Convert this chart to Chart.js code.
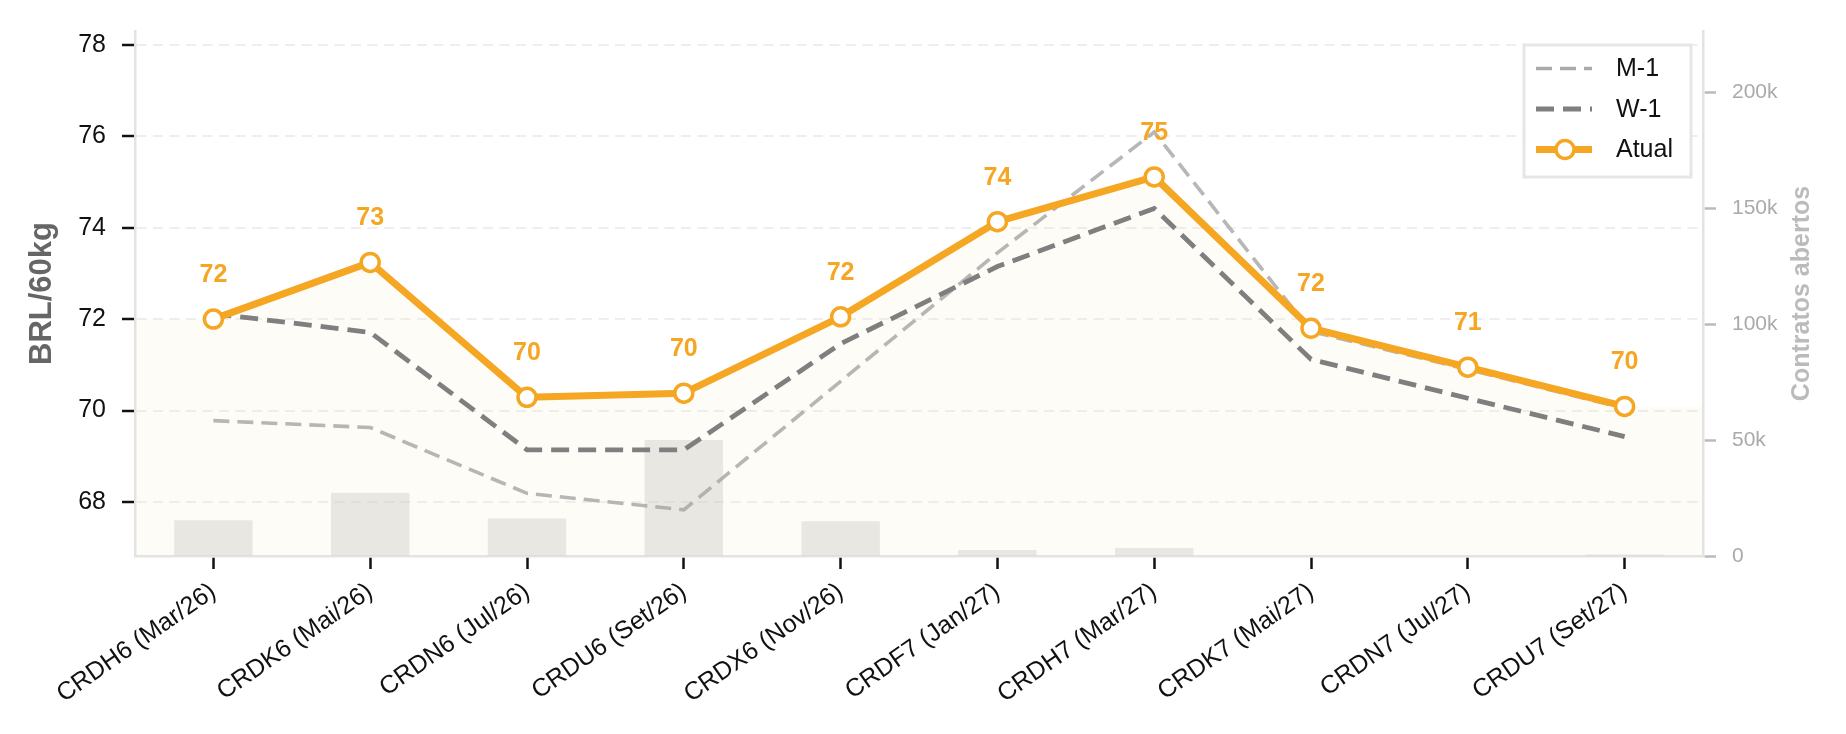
<!DOCTYPE html>
<html>
<head>
<meta charset="utf-8">
<script src="https://cdn.jsdelivr.net/npm/chart.js@4.4.1/dist/chart.umd.min.js"></script>
<style>
    html, body { margin: 0; padding: 0; background: #ffffff; }
    #wrap { width: 1846px; height: 734px; }
</style>
</head>
<body>
<div id="wrap"><canvas id="curveChart" width="1846" height="734"></canvas></div>
<script>
// contratos e valores
const contracts = ["CRDH6 (Mar/26)", "CRDK6 (Mai/26)", "CRDN6 (Jul/26)", "CRDU6 (Set/26)", "CRDX6 (Nov/26)",
    "CRDF7 (Jan/27)", "CRDH7 (Mar/27)", "CRDK7 (Mai/27)", "CRDN7 (Jul/27)", "CRDU7 (Set/27)"];
const atual = [72.00, 73.24, 70.29, 70.38, 72.05, 74.13, 75.11, 71.80, 70.95, 70.09];
const weekAgo = [72.12, 71.71, 69.14, 69.14, 71.46, 73.15, 74.42, 71.12, 70.27, 69.43];
const monthAgo = [69.78, 69.63, 68.19, 67.83, 70.64, 73.45, 76.09, 71.73, 70.90, 70.05];
const openInterest = [15400, 27300, 16200, 50100, 15000, 2600, 3400, 0, 0, 600];

const priceTicks = [68, 70, 72, 74, 76, 78];
const oiTicks = [0, 50000, 100000, 150000, 200000];
const oiTickLabels = ["0", "50k", "100k", "150k", "200k"];
const priceRange = [66.82, 78.30];
const oiRange = [0, 226600];

const orange = "#f5a623";
const fontFamily = "'Liberation Sans', Arial, sans-serif";

// area clara sob a curva atual, estendida ate as bordas do grafico
const areaFill = {
    id: "areaFill",
    beforeDatasetsDraw(chart) {
        const meta = chart.getDatasetMeta(3);
        const area = chart.chartArea;
        const pts = meta.data;
        const ctx = chart.ctx;
        ctx.save();
        ctx.beginPath();
        ctx.moveTo(area.left, area.bottom);
        ctx.lineTo(area.left, pts[0].y);
        pts.forEach(p => ctx.lineTo(p.x, p.y));
        ctx.lineTo(area.right, pts[pts.length - 1].y);
        ctx.lineTo(area.right, area.bottom);
        ctx.closePath();
        ctx.fillStyle = "rgba(240,230,190,0.12)";
        ctx.fill();
        ctx.restore();
    }
};

const pointLabels = {
    id: "pointLabels",
    afterDatasetsDraw(chart) {
        const meta = chart.getDatasetMeta(3);
        const ctx = chart.ctx;
        ctx.save();
        ctx.font = "bold 25px " + fontFamily;
        ctx.fillStyle = orange;
        ctx.textAlign = "center";
        ctx.textBaseline = "middle";
        meta.data.forEach((p, i) => {
            ctx.fillText(String(Math.round(atual[i])), p.x, p.y - 44);
        });
        ctx.restore();
    }
};

const axisTitles = {
    id: "axisTitles",
    afterDraw(chart) {
        const ctx = chart.ctx;
        const area = chart.chartArea;
        const midY = (area.top + area.bottom) / 2;
        ctx.save();
        ctx.textAlign = "center";
        ctx.textBaseline = "middle";

        ctx.save();
        ctx.translate(area.left - 93, midY);
        ctx.rotate(-Math.PI / 2);
        ctx.font = "bold 31px " + fontFamily;
        ctx.fillStyle = "#666666";
        ctx.fillText("BRL/60kg", 0, 0);
        ctx.restore();

        ctx.save();
        ctx.translate(area.right + 99, midY);
        ctx.rotate(-Math.PI / 2);
        ctx.font = "bold 25px " + fontFamily;
        ctx.fillStyle = "#bbbbbb";
        ctx.fillText("Contratos abertos", 0, 0);
        ctx.restore();

        ctx.restore();
    }
};

const legendBox = {
    id: "legendBox",
    afterDraw(chart) {
        const ctx = chart.ctx;
        const area = chart.chartArea;
        const right = area.right - 12;
        const top = area.top + 14;
        const w = 167, h = 132;
        const left = right - w;
        ctx.save();
        ctx.fillStyle = "rgba(255,255,255,0.9)";
        ctx.fillRect(left, top, w, h);
        ctx.lineWidth = 3;
        ctx.strokeStyle = "#e6e6e6";
        ctx.strokeRect(left, top, w, h);

        const items = chart.data.datasets.filter(ds => ds.type === "line");
        items.forEach((ds, i) => {
            const cy = top + 23.5 + i * 40.5;
            ctx.save();
            ctx.lineWidth = ds.borderWidth;
            ctx.strokeStyle = ds.legendColor || ds.borderColor;
            ctx.setLineDash(ds.borderDash || []);
            ctx.lineCap = "butt";
            ctx.beginPath();
            ctx.moveTo(left + 12, cy);
            ctx.lineTo(left + 68, cy);
            ctx.stroke();
            ctx.restore();
            if (ds.pointRadius > 0) {
                ctx.beginPath();
                ctx.arc(left + 41, cy, ds.pointRadius, 0, Math.PI * 2);
                ctx.fillStyle = ds.pointBackgroundColor;
                ctx.fill();
                ctx.lineWidth = ds.pointBorderWidth;
                ctx.strokeStyle = ds.pointBorderColor;
                ctx.stroke();
            }
            ctx.font = "25px " + fontFamily;
            ctx.fillStyle = "#111111";
            ctx.textAlign = "left";
            ctx.textBaseline = "middle";
            ctx.fillText(ds.label, left + 92, cy + 1);
        });
        ctx.restore();
    }
};

const ctx = document.getElementById("curveChart").getContext("2d");
const chart = new Chart(ctx, {
    type: "bar",
    data: {
        labels: contracts,
        datasets: [
            {
                type: "bar",
                label: "Contratos abertos",
                data: openInterest,
                yAxisID: "y2",
                backgroundColor: "rgba(200,200,195,0.4)",
                borderWidth: 0,
                categoryPercentage: 1,
                barPercentage: 0.5,
                order: 10
            },
            {
                type: "line",
                label: "M-1",
                data: monthAgo,
                yAxisID: "y",
                borderColor: "rgba(165,165,165,0.8)",
                legendColor: "#aaaaaa",
                borderWidth: 3.6,
                borderDash: [16, 8],
                pointRadius: 0,
                tension: 0,
                order: 3
            },
            {
                type: "line",
                label: "W-1",
                data: weekAgo,
                yAxisID: "y",
                borderColor: "#7f7f7f",
                borderWidth: 4.8,
                borderDash: [18, 9],
                pointRadius: 0,
                tension: 0,
                order: 2
            },
            {
                type: "line",
                label: "Atual",
                data: atual,
                yAxisID: "y",
                borderColor: orange,
                borderWidth: 7,
                borderJoinStyle: "round",
                pointRadius: 9,
                pointBorderWidth: 3.5,
                pointBackgroundColor: "#ffffff",
                pointBorderColor: orange,
                tension: 0,
                order: 1
            }
        ]
    },
    options: {
        responsive: false,
        devicePixelRatio: 1,
        animation: false,
        layout: { padding: { top: 26, left: 0, right: 0, bottom: 0 } },
        plugins: {
            legend: { display: false },
            tooltip: { enabled: false }
        },
        scales: {
            x: {
                offset: true,
                afterFit: scale => { scale.height = 178; },
                grid: {
                    offset: false,
                    drawOnChartArea: false,
                    tickLength: 13,
                    tickColor: "#111111",
                    tickWidth: 2.5
                },
                border: { color: "#e3e3e3", width: 2.5 },
                ticks: {
                    autoSkip: false,
                    minRotation: 35,
                    maxRotation: 35,
                    padding: 8,
                    color: "#111111",
                    font: { family: fontFamily, size: 25 }
                }
            },
            y: {
                position: "left",
                min: priceRange[0],
                max: priceRange[1],
                afterFit: scale => { scale.width = 135; },
                afterBuildTicks: scale => { scale.ticks = priceTicks.map(v => ({ value: v })); },
                grid: {
                    color: "#eeeeee",
                    lineWidth: 2,
                    tickLength: 13,
                    tickColor: "#111111",
                    tickWidth: 2.5,
                    tickBorderDash: []
                },
                border: { color: "#e3e3e3", width: 2.5, dash: [10, 6.5] },
                ticks: {
                    padding: 16,
                    color: "#111111",
                    font: { family: fontFamily, size: 25 }
                }
            },
            y2: {
                position: "right",
                min: oiRange[0],
                max: oiRange[1],
                afterFit: scale => { scale.width = 143; },
                afterBuildTicks: scale => { scale.ticks = oiTicks.map(v => ({ value: v })); },
                grid: {
                    drawOnChartArea: false,
                    tickLength: 13,
                    tickColor: "#bbbbbb",
                    tickWidth: 2.5
                },
                border: { color: "#e3e3e3", width: 2.5 },
                ticks: {
                    padding: 16,
                    color: "#aaaaaa",
                    font: { family: fontFamily, size: 21 },
                    callback: value => oiTickLabels[oiTicks.indexOf(value)]
                }
            }
        }
    },
    plugins: [areaFill, pointLabels, axisTitles, legendBox]
});
</script>
</body>
</html>
